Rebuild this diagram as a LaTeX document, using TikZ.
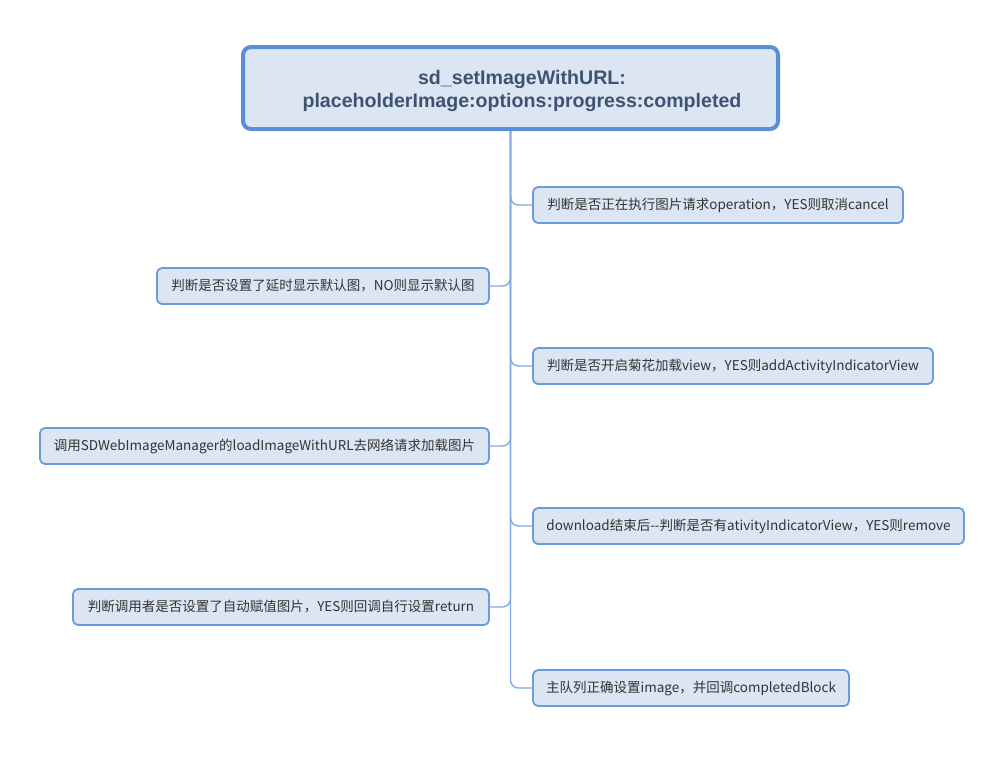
\documentclass[tikz,border=0pt]{standalone}
\usepackage{fontspec}
\setmainfont{Noto Sans CJK SC}
\newfontfamily\rootfont{Liberation Sans}
\definecolor{boxfill}{HTML}{DCE6F2}
\definecolor{boxline}{HTML}{6A9BDB}
\definecolor{rootline}{HTML}{5A8FD8}
\definecolor{connline}{HTML}{7EA9E1}
\definecolor{txt}{HTML}{333333}
\definecolor{roottxt}{HTML}{3E5372}
\tikzset{
  childbox/.style={draw=boxline, fill=boxfill, line width=1.8pt, rounded corners=5pt,
    minimum height=36pt, inner sep=0pt, text=txt, font=\fontsize{13.5}{16}\selectfont},
  rootbox/.style={draw=rootline, fill=boxfill, line width=4pt, rounded corners=8pt,
    minimum width=535pt, minimum height=82pt, inner sep=0pt},
  conn/.style={draw=connline, line width=1.4pt, rounded corners=8pt}
}
\begin{document}
\begin{tikzpicture}[x=1pt,y=-1pt]
\useasboundingbox (0,0) rectangle (1000,756);
\node[rootbox] (root) at (510.5,88) {};
\node[text=roottxt, font=\rootfont\bfseries\fontsize{19.6}{23}\selectfont, align=center, inner sep=0pt] (roottext) at (522,90.5) {sd\_setImageWithURL:\\placeholderImage:options:progress:completed};
\node[childbox, minimum width=370pt] (c1) at (718,205) {判断是否正在执行图片请求operation，YES则取消cancel};
\node[childbox, minimum width=332pt] (c2) at (323,286) {判断是否设置了延时显示默认图，NO则显示默认图};
\node[childbox, minimum width=400pt] (c3) at (733,366) {判断是否开启菊花加载view，YES则addActivityIndicatorView};
\node[childbox, minimum width=449pt] (c4) at (264.5,446) {调用SDWebImageManager的loadImageWithURL去网络请求加载图片};
\node[childbox, minimum width=431pt] (c5) at (748.5,526) {download结束后-{}-判断是否有ativityIndicatorView，YES则remove};
\node[childbox, minimum width=416pt] (c6) at (281,607) {判断调用者是否设置了自动赋值图片，YES则回调自行设置return};
\node[childbox, minimum width=316pt] (c7) at (691,688) {主队列正确设置image，并回调completedBlock};
\draw[conn] (root.south) |- (c1.west);
\draw[conn] (root.south) |- (c2.east);
\draw[conn] (root.south) |- (c3.west);
\draw[conn] (root.south) |- (c4.east);
\draw[conn] (root.south) |- (c5.west);
\draw[conn] (root.south) |- (c6.east);
\draw[conn] (root.south) |- (c7.west);
\end{tikzpicture}
\end{document}
